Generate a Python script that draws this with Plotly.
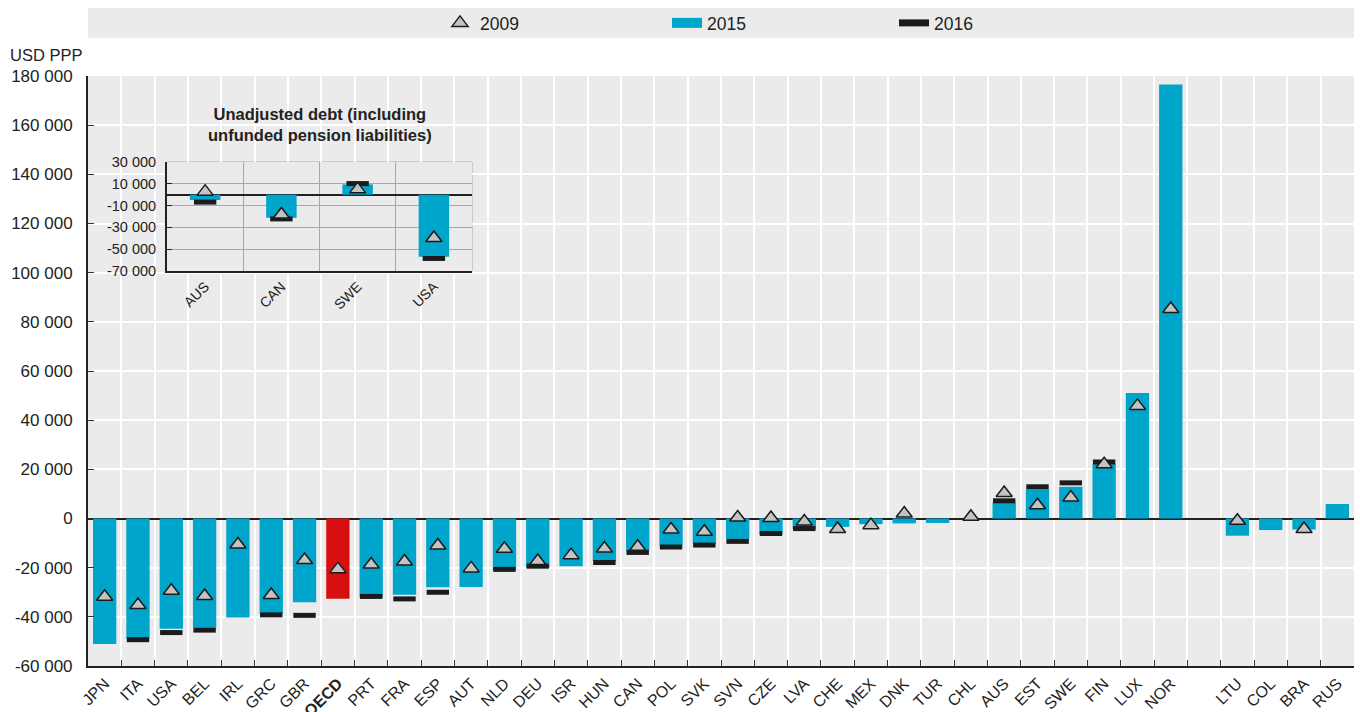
import plotly.graph_objects as go

# ---------------- data ----------------
countries = ["JPN", "ITA", "USA", "BEL", "IRL", "GRC", "GBR", "<b>OECD</b>", "PRT", "FRA",
             "ESP", "AUT", "NLD", "DEU", "ISR", "HUN", "CAN", "POL", "SVK", "SVN",
             "CZE", "LVA", "CHE", "MEX", "DNK", "TUR", "CHL", "AUS", "EST", "SWE",
             "FIN", "LUX", "NOR", " ", "LTU", "COL", "BRA", "RUS"]

v2015 = [-51000, -48800, -44800, -44400, -40300, -38700, -34100, -32600, -32200, -31000,
         -28000, -27900, -21100, -20000, -19400, -17300, -13100, -10800, -10300, -8300,
         -6500, -4300, -3400, -2300, -2000, -1800, 0, 6500, 11900, 12900,
         22300, 51100, 176500, None, -7000, -4700, -4500, 5900]

v2009 = [-31800, -35200, -29400, -31500, -10600, -31100, -16900, -20600, -18700, -17500,
         -11000, -20300, -12300, -17300, -14900, -12200, -11500, -4500, -5400, 400,
         200, -1200, -4300, -2700, 2000, None, 700, 10400, 5400, 8500,
         22100, 45800, 85200, None, -900, None, -4300, None]

v2016 = [None, -49300, -46400, -45400, None, -39200, -39400, None, -31700, -32700,
         -30000, None, -20700, -19400, None, -17900, -13800, -11600, -10800, -9300,
         -6100, -4100, None, None, None, None, None, 7200, 12900, 14500,
         23000, None, None, None, None, None, None, None]

inset_countries = ["AUS", "CAN", "SWE", "USA"]
inset_2015 = [-4900, -21200, 9500, -56900]
inset_2009 = [2800, -18200, 4900, -39700]
inset_2016 = [-6800, -22200, 10200, -58500]

main_ticks = [-60000, -40000, -20000, 0, 20000, 40000, 60000, 80000, 100000,
              120000, 140000, 160000, 180000]
inset_ticks = [-70000, -50000, -30000, -10000, 10000, 30000]


def fmt(v):
    s = f"{abs(v):,}".replace(",", " ")
    return ("-" if v < 0 else "") + s


# ---------------- style ----------------
FONT = "Liberation Sans, Arial, sans-serif"
BLUE = "#00a5cc"
RED = "#d7100f"
TRI_FILL = "#c3c3c3"
DARK = "#1b1b1b"
TXT = "#222222"

bar_colors = [RED if c == "<b>OECD</b>" else BLUE for c in countries]

fig = go.Figure()

fig.add_trace(go.Bar(
    x=countries, y=v2015, name="2015", marker=dict(color=bar_colors, line=dict(width=0)),
    width=0.7, showlegend=False, xaxis="x", yaxis="y"))
fig.add_trace(go.Scatter(
    x=countries, y=v2016, name="2016", mode="markers", showlegend=False,
    marker=dict(symbol="line-ew", size=16, color=DARK, line=dict(color=DARK, width=5)),
    xaxis="x", yaxis="y"))
fig.add_trace(go.Scatter(
    x=countries, y=v2009, name="2009", mode="markers",
    marker=dict(symbol="triangle-up", size=14, color=TRI_FILL, line=dict(color=DARK, width=1.5)),
    legendrank=1, xaxis="x", yaxis="y"))
# legend keys for the bar and the 2016 dash (wide swatches as in the original)
fig.add_trace(go.Scatter(
    x=[None], y=[None], name="2015", mode="lines", line=dict(color=BLUE, width=10),
    legendrank=2, hoverinfo="skip", xaxis="x", yaxis="y"))
fig.add_trace(go.Scatter(
    x=[None], y=[None], name="2016", mode="lines", line=dict(color=DARK, width=7),
    legendrank=3, hoverinfo="skip", xaxis="x", yaxis="y"))

# inset
fig.add_trace(go.Bar(
    x=inset_countries, y=inset_2015, marker=dict(color=BLUE, line=dict(width=0)),
    width=0.4, showlegend=False, xaxis="x2", yaxis="y2"))
fig.add_trace(go.Scatter(
    x=inset_countries, y=inset_2016, mode="markers", showlegend=False,
    marker=dict(symbol="line-ew", size=16, color=DARK, line=dict(color=DARK, width=5)),
    xaxis="x2", yaxis="y2"))
fig.add_trace(go.Scatter(
    x=inset_countries, y=inset_2009, mode="markers", showlegend=False,
    marker=dict(symbol="triangle-up", size=14, color=TRI_FILL, line=dict(color=DARK, width=1.5)),
    xaxis="x2", yaxis="y2"))

W, H = 1360, 712
L, R, T, B = 88, 6, 76, 46
pw, ph = W - L - R, H - T - B


def px_x(x):
    return (x - L) / pw


def px_y(y):
    return (H - B - y) / ph


fig.update_layout(
    width=W, height=H,
    margin=dict(l=L, r=R, t=T, b=B, autoexpand=False),
    paper_bgcolor="white",
    plot_bgcolor="#ebebeb",
    font=dict(family=FONT, size=15, color=TXT),
    showlegend=True,
    legend=dict(orientation="h", xref="container", yref="container",
                x=440 / W, xanchor="left", y=1 - 23 / H, yanchor="middle",
                bgcolor="rgba(0,0,0,0)", entrywidth=182, entrywidthmode="pixels",
                font=dict(size=17.5, family=FONT, color=TXT), itemsizing="trace"),
    xaxis=dict(
        domain=[0, 1], type="category", categoryorder="array", categoryarray=countries,
        tickson="boundaries", ticks="inside", ticklen=6, tickcolor="#333333",
        showgrid=True, gridcolor="white", gridwidth=2,
        showline=True, linecolor=TXT, linewidth=2,
        tickangle=-45, tickfont=dict(size=16), range=[-0.5, len(countries) - 0.5],
        anchor="y", fixedrange=True, automargin=False),
    yaxis=dict(
        domain=[0, 1], range=[-60000, 180000], tickmode="array",
        tickvals=main_ticks, ticktext=[fmt(v) for v in main_ticks],
        ticks="inside", ticklen=6, tickcolor="#333333", ticklabelstandoff=10,
        showgrid=True, gridcolor="white", gridwidth=2,
        zeroline=True, zerolinecolor=TXT, zerolinewidth=2,
        showline=True, linecolor=TXT, linewidth=2,
        tickfont=dict(size=17), anchor="x", fixedrange=True, automargin=False),
    xaxis2=dict(
        domain=[px_x(167), px_x(472)], type="category", categoryorder="array",
        categoryarray=inset_countries, tickson="boundaries", ticks="",
        showgrid=True, gridcolor="#a8a8a8", gridwidth=1,
        showline=True, linecolor=TXT, linewidth=2,
        tickangle=-45, tickfont=dict(size=14), anchor="y2",
        range=[-0.5, 3.5], fixedrange=True, automargin=False),
    yaxis2=dict(
        domain=[px_y(271), px_y(162)], range=[-70000, 30000], tickmode="array",
        tickvals=inset_ticks, ticktext=[fmt(v) for v in inset_ticks],
        ticks="inside", ticklen=5, tickcolor=TXT, ticklabelstandoff=6,
        showgrid=True, gridcolor="#a8a8a8", gridwidth=1,
        zeroline=True, zerolinecolor=TXT, zerolinewidth=2,
        showline=True, linecolor=TXT, linewidth=2,
        tickfont=dict(size=14.5), anchor="x2", fixedrange=True, automargin=False),
    shapes=[
        dict(type="rect", xref="paper", yref="paper", x0=0, x1=1,
             y0=px_y(38), y1=px_y(8), fillcolor="#ebebeb", line=dict(width=0), layer="below"),
        dict(type="rect", xref="x2 domain", yref="y2 domain", x0=0, x1=1, y0=0, y1=1,
             fillcolor="white", line=dict(color="#a8a8a8", width=1), layer="below"),
    ],
    annotations=[
        dict(text="USD PPP", xref="paper", yref="paper", x=px_x(8), y=px_y(55),
             xanchor="left", yanchor="middle", showarrow=False,
             font=dict(size=16.5, family=FONT, color=TXT)),
        dict(text="<b>Unadjusted debt (including<br>unfunded pension liabilities)</b>",
             xref="paper", yref="paper", x=px_x(320), y=px_y(124),
             xanchor="center", yanchor="middle", showarrow=False, align="center",
             font=dict(size=16.5, family=FONT, color=TXT)),
    ],
)

fig.write_html("out.html", config={"displayModeBar": False},
               post_script="document.body.style.margin='0';document.body.style.overflow='hidden';")
